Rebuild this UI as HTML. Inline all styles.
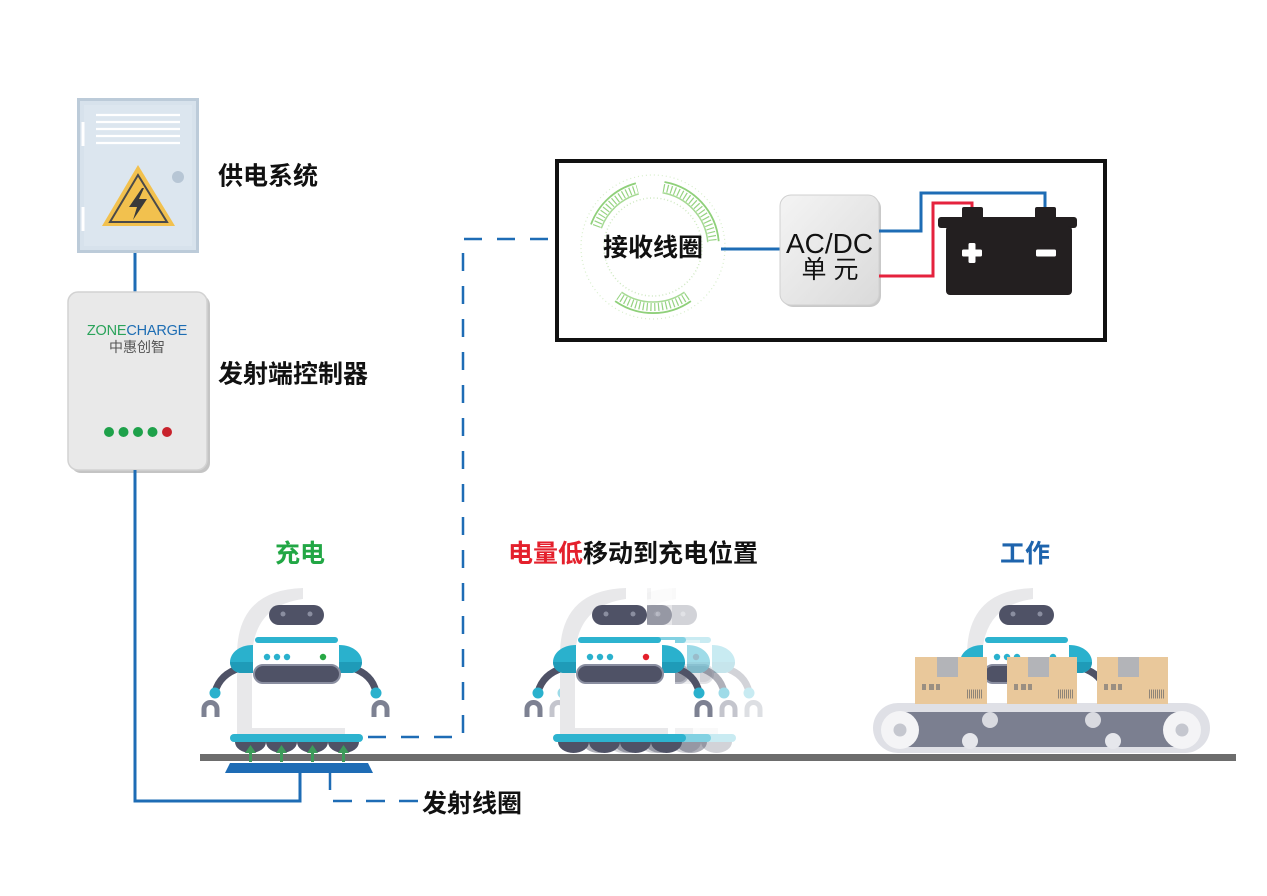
<!DOCTYPE html>
<html>
<head>
<meta charset="utf-8">
<style>
  html,body{margin:0;padding:0;background:#fff;}
  svg{display:block;}
  .lbl{font-family:"Liberation Sans","Noto Sans CJK SC",sans-serif;font-weight:bold;font-size:25px;fill:#111;}
</style>
</head>
<body>
<svg width="1267" height="896" viewBox="0 0 1267 896" xmlns="http://www.w3.org/2000/svg">
  <defs>
    <linearGradient id="acdc" x1="0" y1="0" x2="1" y2="1">
      <stop offset="0" stop-color="#f4f4f4"/>
      <stop offset="1" stop-color="#dadada"/>
    </linearGradient>
    <g id="rb">
      <path d="M237,735 V652 Q237,588 300,588 H324 V640 H352 V735 Z" fill="#fff"/>
      <path d="M303,588 Q237,590 237,655 V734 H345 V728 H252 V660 Q252,606 303,599 Z" fill="#e8e8ea"/>
      <path d="M240,668 Q220,674 215,692" stroke="#4f5266" stroke-width="7" fill="none" stroke-linecap="round"/>
      <path d="M352,668 Q372,674 376,692" stroke="#4f5266" stroke-width="7" fill="none" stroke-linecap="round"/>
      <path d="M204,717 V709 A6.5,6.5 0 0 1 217,709 V717" stroke="#7d8192" stroke-width="5" fill="none"/>
      <path d="M374,717 V709 A6.5,6.5 0 0 1 387,709 V717" stroke="#7d8192" stroke-width="5" fill="none"/>
      <circle cx="215" cy="693" r="5.5" fill="#2ab1cd"/>
      <circle cx="376" cy="693" r="5.5" fill="#2ab1cd"/>
      <path d="M253,645 C238,645 230,654 230,662 C230,668 234,672 240,673 L253,673 Z" fill="#2ab1cd"/>
      <path d="M230,662 C230,668 234,672 240,673 L253,673 L253,662 Z" fill="#1f9bb8"/>
      <path d="M339,645 C354,645 362,654 362,662 C362,668 358,672 352,673 L339,673 Z" fill="#2ab1cd"/>
      <path d="M362,662 C362,668 358,672 352,673 L339,673 L339,662 Z" fill="#1f9bb8"/>
      <rect x="269" y="605" width="55" height="20" rx="10" fill="#4f5266"/>
      <circle cx="283" cy="614" r="2.5" fill="#8a8ea0"/>
      <circle cx="310" cy="614" r="2.5" fill="#8a8ea0"/>
      <rect x="255" y="637" width="83" height="6" rx="3" fill="#2db3cf"/>
      <circle cx="267" cy="657" r="3.2" fill="#2ab1cd"/>
      <circle cx="277" cy="657" r="3.2" fill="#2ab1cd"/>
      <circle cx="287" cy="657" r="3.2" fill="#2ab1cd"/>
      <circle cx="323" cy="657" r="3.2" fill="currentColor"/>
      <rect x="254" y="665" width="86" height="18" rx="9" fill="#4f5266" stroke="#8a8ea0" stroke-width="2"/>
      <rect x="230" y="734" width="133" height="8" rx="4" fill="#2db3cf"/>
      <path d="M235,742 A15.5,11 0 0 0 266,742 Z" fill="#4f5266"/>
      <path d="M266,742 A15.5,11 0 0 0 297,742 Z" fill="#4f5266"/>
      <path d="M297,742 A15.5,11 0 0 0 328,742 Z" fill="#4f5266"/>
      <path d="M328,742 A15.5,11 0 0 0 359,742 Z" fill="#4f5266"/>
    </g>
  </defs>

  <rect width="1267" height="896" fill="#fff"/>

  <!-- Power cabinet -->
  <rect x="78.5" y="99.5" width="119" height="152" fill="#d7e2ec" stroke="#bccbd9" stroke-width="3"/>
  <rect x="84" y="105" width="108" height="141" fill="#dce6ef"/>
  <g stroke="#fff" stroke-width="2.2">
    <line x1="96" y1="115" x2="180" y2="115"/>
    <line x1="96" y1="122" x2="180" y2="122"/>
    <line x1="96" y1="129" x2="180" y2="129"/>
    <line x1="96" y1="136" x2="180" y2="136"/>
    <line x1="96" y1="143" x2="180" y2="143"/>
  </g>
  <rect x="81.5" y="122" width="3" height="24" fill="#fff"/>
  <rect x="81.5" y="207" width="3" height="24" fill="#fff"/>
  <circle cx="178" cy="177" r="6" fill="#b7c6d5"/>
  <polygon points="138,165 102,226 175,226" fill="#f2c14e"/>
  <polygon points="138,175 110,222 167,222" fill="none" stroke="#4a4a4a" stroke-width="2"/>
  <polygon points="142,188 129,207 137,207 133,220 147,199 139,199 144,188" fill="#3a3a3a"/>

  <line x1="135" y1="253" x2="135" y2="292" stroke="#1e6cb5" stroke-width="3"/>

  <!-- Controller -->
  <rect x="71" y="295" width="139" height="178" rx="10" fill="#c4c4c4"/>
  <rect x="68" y="292" width="139" height="178" rx="10" fill="#e9e9e9" stroke="#d2d2d2" stroke-width="1.5"/>
  <text x="137" y="335" text-anchor="middle" font-family="Liberation Sans, sans-serif" font-size="14.5" letter-spacing="-0.2"><tspan fill="#2aa35a">ZONE</tspan><tspan fill="#1d6db3">CHARGE</tspan></text>
  <text x="137" y="352" text-anchor="middle" font-family="Liberation Sans, Noto Sans CJK SC, sans-serif" font-size="14" fill="#555">中惠创智</text>
  <circle cx="109" cy="432" r="5" fill="#1ea14a"/>
  <circle cx="123.5" cy="432" r="5" fill="#1ea14a"/>
  <circle cx="138" cy="432" r="5" fill="#1ea14a"/>
  <circle cx="152.5" cy="432" r="5" fill="#1ea14a"/>
  <circle cx="167" cy="432" r="5" fill="#c8222c"/>

  <text class="lbl" x="218" y="184.5">供电系统</text>
  <text class="lbl" x="218" y="382.5">发射端控制器</text>

  <path d="M135,470 V801 H300 V773" fill="none" stroke="#1e6cb5" stroke-width="3"/>

  <!-- Receiver box -->
  <rect x="557" y="161" width="548" height="179" fill="#fff" stroke="#111" stroke-width="4"/>

  <g fill="none">
    <circle cx="653" cy="247" r="49" stroke="#cfe9c2" stroke-width="1.5" stroke-dasharray="1 2.5"/>
    <circle cx="653" cy="247" r="72" stroke="#d7eecb" stroke-width="1.2" stroke-dasharray="1 3"/>
    <path d="M591.0,224.4 A66,66 0 0 1 635.9,183.3" stroke="#8fd07a" stroke-width="1.8"/>
    <path d="M596.6,226.5 A60,60 0 0 1 637.5,189.0" stroke="#96d382" stroke-width="8" stroke-dasharray="1.2 2.6"/>
    <path d="M601.3,228.2 A55,55 0 0 1 638.8,193.9" stroke="#a6da94" stroke-width="1.5"/>
    <path d="M664.5,182.0 A66,66 0 0 1 718.7,241.2" stroke="#8fd07a" stroke-width="1.8"/>
    <path d="M663.4,187.9 A60,60 0 0 1 712.8,241.8" stroke="#96d382" stroke-width="8" stroke-dasharray="1.2 2.6"/>
    <path d="M662.5,192.8 A55,55 0 0 1 707.8,242.2" stroke="#a6da94" stroke-width="1.5"/>
    <path d="M690.9,301.1 A66,66 0 0 1 615.1,301.1" stroke="#8fd07a" stroke-width="1.8"/>
    <path d="M687.4,296.2 A60,60 0 0 1 618.6,296.2" stroke="#96d382" stroke-width="8" stroke-dasharray="1.2 2.6"/>
    <path d="M684.5,292.1 A55,55 0 0 1 621.5,292.1" stroke="#a6da94" stroke-width="1.5"/>
  </g>
  <text class="lbl" x="653" y="256" text-anchor="middle">接收线圈</text>

  <line x1="721" y1="249" x2="781" y2="249" stroke="#1e6cb5" stroke-width="3"/>

  <rect x="782" y="197" width="99" height="110" rx="11" fill="#c9c9c9"/>
  <rect x="780" y="195" width="99" height="110" rx="11" fill="url(#acdc)" stroke="#d0d0d0" stroke-width="1"/>
  <text x="829.5" y="253" text-anchor="middle" font-family="Liberation Sans, sans-serif" font-size="28" fill="#111">AC/DC</text>
  <text x="830" y="278" text-anchor="middle" font-family="Liberation Sans, Noto Sans CJK SC, sans-serif" font-size="25" fill="#111">单 元</text>

  <path d="M879,231 H921 V193 H1045 V210" fill="none" stroke="#1e6cb5" stroke-width="3"/>
  <path d="M879,276 H933 V203 H972 V210" fill="none" stroke="#e5223d" stroke-width="3"/>

  <rect x="962" y="207" width="21" height="12" rx="2" fill="#231f20"/>
  <rect x="1035" y="207" width="21" height="12" rx="2" fill="#231f20"/>
  <rect x="938" y="217" width="139" height="11" rx="3" fill="#231f20"/>
  <rect x="946" y="226" width="126" height="69" rx="4" fill="#231f20"/>
  <rect x="962" y="249.5" width="20" height="7" rx="1.5" fill="#fff"/>
  <rect x="968.5" y="243" width="7" height="20" rx="1.5" fill="#fff"/>
  <rect x="1036" y="249.5" width="20" height="7" rx="1.5" fill="#fff"/>

  <path d="M368,737 H463 V239 H548" fill="none" stroke="#1e6cb5" stroke-width="2.5" stroke-dasharray="18 15"/>

  <text class="lbl" x="300" y="562" text-anchor="middle" style="fill:#22a745">充电</text>
  <text class="lbl" x="508" y="562"><tspan style="fill:#e4202c">电量低</tspan>移动到充电位置</text>
  <text class="lbl" x="1025" y="562" text-anchor="middle" style="fill:#1e64ad">工作</text>

  <use href="#rb" style="color:#27a844"/>

  <use href="#rb" transform="translate(373,0)" opacity="0.25" style="color:#e4202c"/>
  <use href="#rb" transform="translate(348,0)" opacity="0.45" style="color:#e4202c"/>
  <use href="#rb" transform="translate(323,0)" style="color:#e4202c"/>

  <use href="#rb" transform="translate(730,0)" style="color:#2ab1cd"/>

  <rect x="200" y="754" width="1036" height="7" fill="#6d6d6d"/>

  <g fill="#3d9b5b">
    <polygon points="245,753 250.5,745 256,753"/><rect x="249" y="752" width="3" height="10"/>
    <polygon points="276,753 281.5,745 287,753"/><rect x="280" y="752" width="3" height="10"/>
    <polygon points="307,753 312.5,745 318,753"/><rect x="311" y="752" width="3" height="10"/>
    <polygon points="338,753 343.5,745 349,753"/><rect x="342" y="752" width="3" height="10"/>
  </g>

  <polygon points="230,763 368,763 373,773 225,773" fill="#1e6cb5"/>
  <path d="M330,773 V790" stroke="#1e6cb5" stroke-width="2.5"/>
  <path d="M333,801 H418" stroke="#1e6cb5" stroke-width="2.5" stroke-dasharray="19 14"/>
  <text class="lbl" x="422" y="812">发射线圈</text>

  <!-- Conveyor -->
  <rect x="873" y="703" width="337" height="50" rx="25" fill="#dfe0e6"/>
  <rect x="895" y="712" width="293" height="35" fill="#7b7f90"/>
  <circle cx="900" cy="730" r="19" fill="#f4f4f6"/>
  <circle cx="900" cy="730" r="6.5" fill="#c5c7cf"/>
  <circle cx="1182" cy="730" r="19" fill="#f4f4f6"/>
  <circle cx="1182" cy="730" r="6.5" fill="#c5c7cf"/>
  <circle cx="990" cy="720" r="8" fill="#d9dae0"/>
  <circle cx="1093" cy="720" r="8" fill="#d9dae0"/>
  <circle cx="970" cy="741" r="8" fill="#e6e7ec"/>
  <circle cx="1113" cy="741" r="8" fill="#e6e7ec"/>

  <g>
    <rect x="915" y="657" width="72" height="47" fill="#e9c89b"/>
    <rect x="937" y="657" width="21" height="20" fill="#b3b4b8"/>
    <rect x="1007" y="657" width="70" height="47" fill="#e9c89b"/>
    <rect x="1028" y="657" width="21" height="20" fill="#b3b4b8"/>
    <rect x="1097" y="657" width="71" height="47" fill="#e9c89b"/>
    <rect x="1118" y="657" width="21" height="20" fill="#b3b4b8"/>
    <g fill="#9a8f82">
      <rect x="922" y="684" width="4" height="6"/><rect x="929" y="684" width="5" height="6"/><rect x="936" y="684" width="4" height="6"/>
      <rect x="1014" y="684" width="4" height="6"/><rect x="1021" y="684" width="5" height="6"/><rect x="1028" y="684" width="4" height="6"/>
      <rect x="1104" y="684" width="4" height="6"/><rect x="1111" y="684" width="5" height="6"/><rect x="1118" y="684" width="4" height="6"/>
    </g>
    <g stroke="#8f8578" stroke-width="1" stroke-dasharray="1 1">
      <line x1="967" y1="694" x2="983" y2="694" stroke-width="9"/>
      <line x1="1058" y1="694" x2="1073" y2="694" stroke-width="9"/>
      <line x1="1149" y1="694" x2="1164" y2="694" stroke-width="9"/>
    </g>
  </g>
</svg>
</body>
</html>
